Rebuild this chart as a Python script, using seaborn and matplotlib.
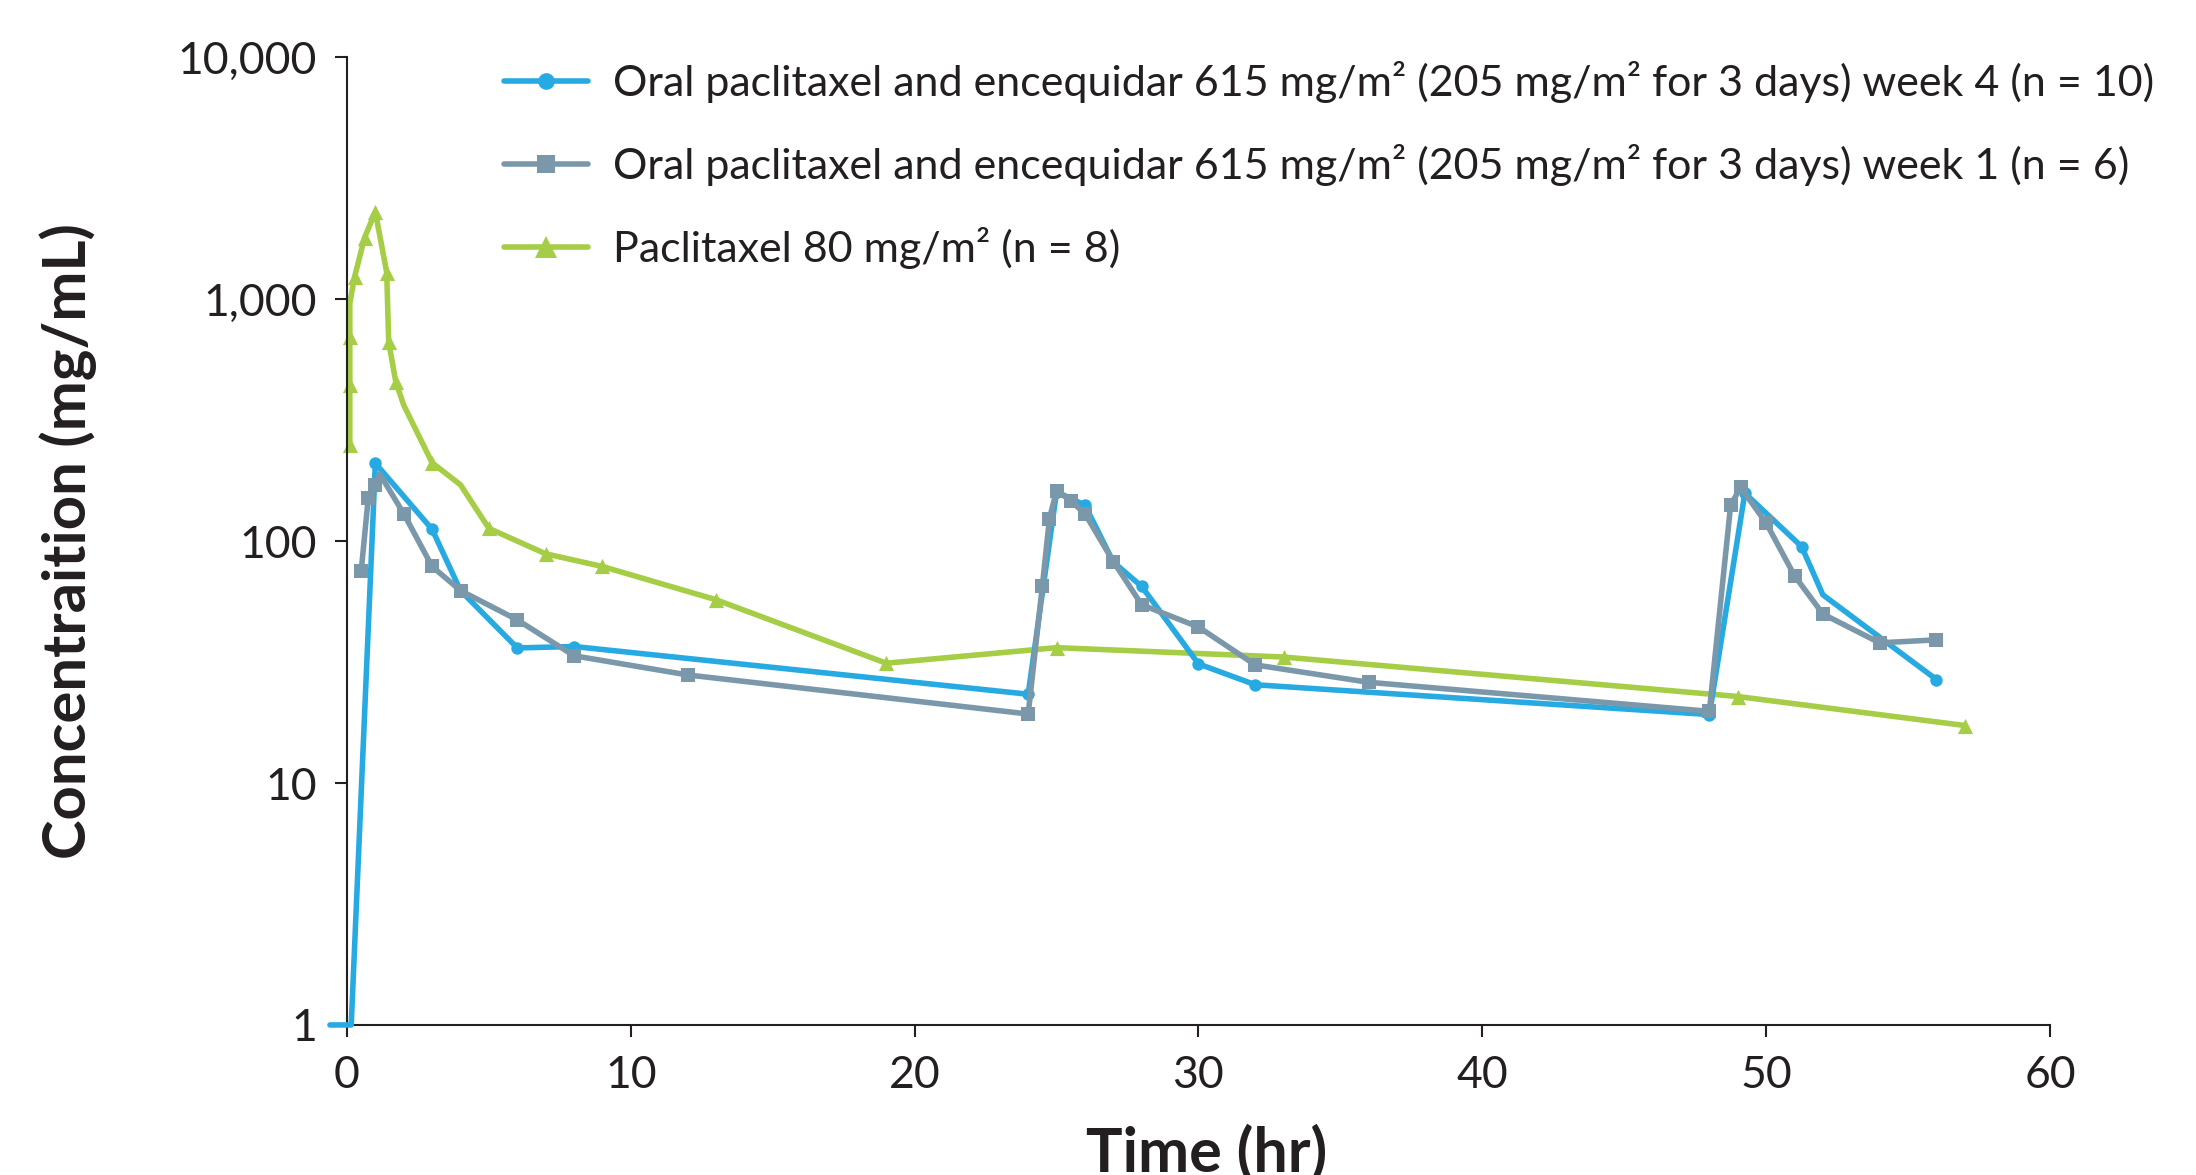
import numpy as np
import pandas as pd
import seaborn as sns
import matplotlib.pyplot as plt
from matplotlib.lines import Line2D
from matplotlib.ticker import FixedLocator, FuncFormatter, NullLocator

# (time in hr, concentration)
wk4_time = [-0.6, 0.15, 1, 3, 4, 6, 8, 24, 25, 26, 27, 28, 30, 32, 48, 49.25, 51.25, 52, 56]
wk4_conc = [1, 1, 210, 112, 62.5, 36.2, 36.7, 23.3, 160, 141, 82, 65, 31.1, 25.5, 19.2, 158, 95, 60, 26.8]
wk4_hidden = [0, 1, 17]  # bends with no marker drawn

wk1_time = [0.5, 0.75, 1, 1.15, 2, 3, 4, 6, 8, 12, 24, 24.5, 24.75, 25, 25.5, 26, 27, 28, 30, 32, 36,
            48, 48.75, 49.1, 50, 51, 52, 54, 56]
wk1_conc = [75, 151, 170, 190, 130, 78.6, 62.5, 47.3, 33.6, 28, 19.3, 65.4, 124, 162, 147, 130, 82.4, 54.6,
            44.2, 30.8, 26.1, 19.8, 141, 167, 119, 72, 50, 38, 39.1]
wk1_hidden = [3]

iv_time = [0.1, 0.1, 0.1, 0.1, 0.27, 0.62, 1.0, 1.4, 1.47, 1.72, 2, 3, 4, 5, 7, 9, 13, 19, 25, 33, 49, 57]
iv_conc = [250, 443, 700, 964, 1240, 1800, 2300, 1290, 667, 456, 365, 211, 171, 113, 88.7, 78.6, 57.3,
           31.3, 36.3, 33.2, 22.8, 17.3]
iv_hidden = [3, 10, 12]

labels = [
    "Oral paclitaxel and encequidar 615 mg/m\u00b2 (205 mg/m\u00b2 for 3 days) week 4 (n = 10)",
    "Oral paclitaxel and encequidar 615 mg/m\u00b2 (205 mg/m\u00b2 for 3 days) week 1 (n = 6)",
    "Paclitaxel 80 mg/m\u00b2 (n = 8)",
]
colors = ["#27AAE1", "#7B98AB", "#A5CD45"]
markers = ["o", "s", "^"]
msize = [80, 95, 120]

sns.set_style("ticks")
plt.rcParams["font.family"] = ["Lato", "DejaVu Sans"]
ink = "#231F20"

fig = plt.figure(figsize=(21.96, 11.75), dpi=100)
ax = fig.add_axes([0.158, 0.1277, 0.7755, 0.8234])

series = [
    (wk4_time, wk4_conc, wk4_hidden),
    (wk1_time, wk1_conc, wk1_hidden),
    (iv_time, iv_conc, iv_hidden),
]
zorders = [3, 4, 2]

for i in [2, 0, 1]:
    t, c, hidden = series[i]
    df = pd.DataFrame({"time": t, "conc": c})
    sns.lineplot(data=df, x="time", y="conc", sort=False, estimator=None, color=colors[i],
                 lw=4, ax=ax, zorder=zorders[i], clip_on=False, legend=False)
    shown = df.drop(index=hidden)
    sns.scatterplot(data=shown, x="time", y="conc", marker=markers[i], s=msize[i], color=colors[i],
                    linewidth=0, ax=ax, zorder=zorders[i] + 0.5, clip_on=False, legend=False)

ax.set_yscale("log")
ax.set_xlim(0, 60)
ax.set_ylim(1, 10000)
ax.yaxis.set_major_locator(FixedLocator([1, 10, 100, 1000, 10000]))
ax.yaxis.set_minor_locator(NullLocator())
ax.yaxis.set_major_formatter(FuncFormatter(lambda v, _: f"{int(round(v)):,}"))
ax.set_xticks(np.arange(0, 61, 10))

for side in ["top", "right"]:
    ax.spines[side].set_visible(False)
for side in ["left", "bottom"]:
    ax.spines[side].set_linewidth(1.5)
    ax.spines[side].set_color(ink)
ax.tick_params(length=8.5, width=1.5, color=ink, labelsize=32, labelcolor=ink, pad=13)

ax.set_xlabel("Time (hr)", fontsize=44, fontweight="bold", color=ink)
ax.set_ylabel("Concentraition (mg/mL)", fontsize=43, fontweight="bold", color=ink)
ax.xaxis.set_label_coords(0.505, -0.102)
ax.yaxis.set_label_coords(-0.147, 0.5)

handles = [Line2D([], [], color=colors[i], lw=4, marker=markers[i], markersize=[12, 13, 16][i],
                  markeredgewidth=0) for i in range(3)]
fig.legend(handles, labels, loc="upper left", bbox_to_anchor=(0.2295, 0.948), frameon=False,
           fontsize=31, handlelength=1.95, handletextpad=0.58, labelspacing=0.95,
           borderpad=0, borderaxespad=0, labelcolor=ink)

fig.savefig("out.png", dpi=100)
